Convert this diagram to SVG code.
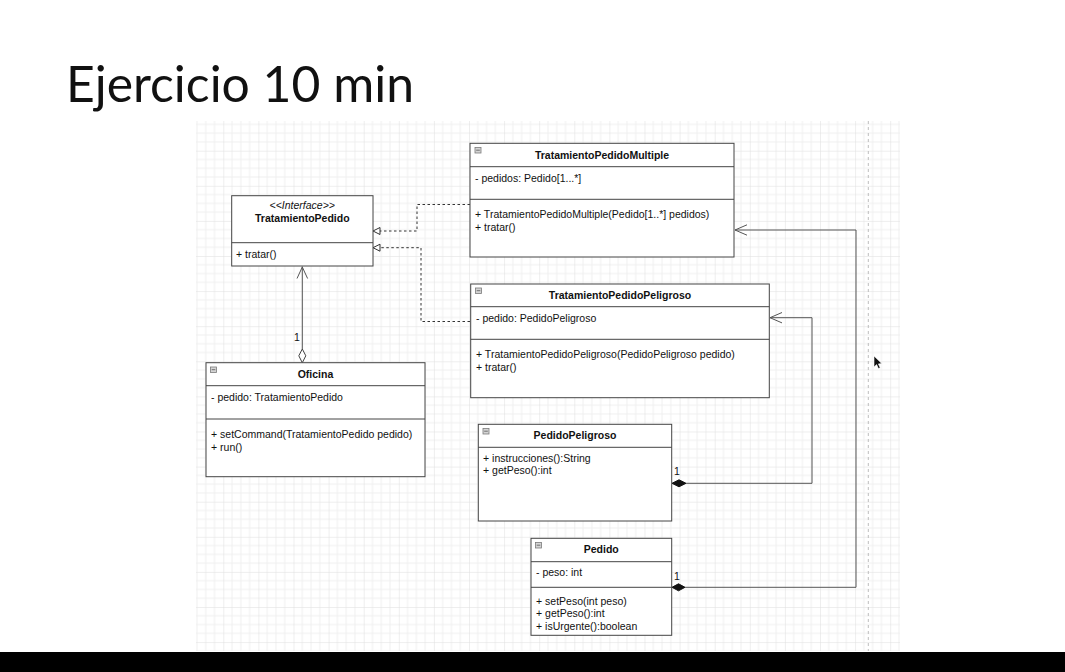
<svg xmlns="http://www.w3.org/2000/svg" width="1065" height="672" viewBox="0 0 1065 672">
<style>
.box{fill:#fff;stroke:#444;stroke-width:1}
.sep{stroke:#444;stroke-width:1}
.t{font-family:"Liberation Sans",Arial,sans-serif;font-size:10.5px;fill:#111}
.b{font-weight:bold;text-anchor:middle}
.i{font-style:italic;text-anchor:middle}
.c{fill:none;stroke:#555;stroke-width:1}
.d{fill:none;stroke:#333;stroke-width:1;stroke-dasharray:2.5,2.5}
.icon{fill:#d4d4d4;stroke:#7a7a7a;stroke-width:0.8}
.minus{stroke:#555;stroke-width:0.8}
</style>
<defs>
<pattern id="grid" patternUnits="userSpaceOnUse" x="223.3" y="150.7" width="35.1" height="35.1">
<path d="M8.775 0V35.1M17.55 0V35.1M26.325 0V35.1M0 8.775H35.1M0 17.55H35.1M0 26.325H35.1" stroke="#efefef" stroke-width="1" fill="none"/>
<path d="M0 0V35.1M0 0H35.1" stroke="#dedede" stroke-width="1" fill="none"/>
</pattern>
</defs>
<rect x="0" y="0" width="1065" height="672" fill="#fff"/>
<text x="66" y="101.5" font-family="Lato,'Open Sans',sans-serif" font-size="51" fill="#111" textLength="348" lengthAdjust="spacingAndGlyphs">Ejercicio 10 min</text>
<rect x="196" y="121" width="704" height="530" fill="url(#grid)"/>
<line x1="868.3" y1="121" x2="868.3" y2="651" stroke="#bdbdbd" stroke-width="1" stroke-dasharray="3,3"/>

<g id="connectors">
<polyline class="d" points="470,204.5 417,204.5 417,231 380,231"/>
<polygon points="373,231 380,227.5 380,234.5" fill="#fff" stroke="#333" stroke-width="1"/>
<polyline class="d" points="470,321.5 421,321.5 421,247.7 380,247.7"/>
<polygon points="373,247.7 380,244.2 380,251.2" fill="#fff" stroke="#333" stroke-width="1"/>
<line class="c" x1="302.3" y1="349" x2="302.3" y2="266.5"/>
<polyline class="c" points="297,278.5 302.3,267 307.6,278.5"/>
<polygon points="302.3,349 305.8,355.8 302.3,362.7 298.8,355.8" fill="#fff" stroke="#444" stroke-width="1"/>
<text class="t" x="297" y="341" text-anchor="middle">1</text>
<polyline class="c" points="686,483.3 812,483.3 812,317.7 770,317.7"/>
<polyline class="c" points="782,312.5 770,317.7 782,322.9"/>
<polygon points="672,483.3 679,479.8 686,483.3 679,486.8" fill="#111" stroke="#111" stroke-width="1"/>
<text class="t" x="674" y="475">1</text>
<polyline class="c" points="685,587.3 856,587.3 856,230 735,230"/>
<polyline class="c" points="747,224.8 735,230 747,235.2"/>
<polygon points="672,587.3 678.5,583.8 685,587.3 678.5,590.8" fill="#111" stroke="#111" stroke-width="1"/>
<text class="t" x="674" y="580">1</text>
</g>

<g id="TratamientoPedido">
<rect class="box" x="231.7" y="195.7" width="141.3" height="70.3"/>
<line class="sep" x1="231.7" y1="242.7" x2="373" y2="242.7"/>
<text class="t i" x="302.3" y="209">&lt;&lt;Interface&gt;&gt;</text>
<text class="t b" x="302.3" y="221.5">TratamientoPedido</text>
<text class="t" x="236" y="258">+ tratar()</text>
</g>

<g id="TratamientoPedidoMultiple">
<rect class="box" x="470" y="143.3" width="264" height="113.7"/>
<line class="sep" x1="470" y1="166.7" x2="734" y2="166.7"/>
<line class="sep" x1="470" y1="199.3" x2="734" y2="199.3"/>
<rect class="icon" x="475" y="147.5" width="6" height="5.5"/><line class="minus" x1="476.2" y1="150.2" x2="479.8" y2="150.2"/>
<text class="t b" x="602" y="158.5">TratamientoPedidoMultiple</text>
<text class="t" x="475" y="181.5">- pedidos: Pedido[1...*]</text>
<text class="t" x="475" y="218.3">+ TratamientoPedidoMultiple(Pedido[1..*] pedidos)</text>
<text class="t" x="475" y="230.5">+ tratar()</text>
</g>

<g id="TratamientoPedidoPeligroso">
<rect class="box" x="470.7" y="284" width="298.6" height="113.7"/>
<line class="sep" x1="470.7" y1="306.7" x2="769.3" y2="306.7"/>
<line class="sep" x1="470.7" y1="339.3" x2="769.3" y2="339.3"/>
<rect class="icon" x="475.5" y="288" width="6" height="5.5"/><line class="minus" x1="476.7" y1="290.7" x2="480.3" y2="290.7"/>
<text class="t b" x="620" y="299">TratamientoPedidoPeligroso</text>
<text class="t" x="476" y="321.5">- pedido: PedidoPeligroso</text>
<text class="t" x="476" y="358.3">+ TratamientoPedidoPeligroso(PedidoPeligroso pedido)</text>
<text class="t" x="476" y="370.5">+ tratar()</text>
</g>

<g id="Oficina">
<rect class="box" x="206" y="362.7" width="219" height="114"/>
<line class="sep" x1="206" y1="385.7" x2="425" y2="385.7"/>
<line class="sep" x1="206" y1="419" x2="425" y2="419"/>
<rect class="icon" x="210.5" y="367" width="6" height="5.5"/><line class="minus" x1="211.7" y1="369.7" x2="215.3" y2="369.7"/>
<text class="t b" x="315.5" y="377.5">Oficina</text>
<text class="t" x="211" y="400.7">- pedido: TratamientoPedido</text>
<text class="t" x="211" y="438.3">+ setCommand(TratamientoPedido pedido)</text>
<text class="t" x="211" y="450.5">+ run()</text>
</g>

<g id="PedidoPeligroso">
<rect class="box" x="478.3" y="424.3" width="193.4" height="96.7"/>
<line class="sep" x1="478.3" y1="447.3" x2="671.7" y2="447.3"/>
<rect class="icon" x="483" y="428.5" width="6" height="5.5"/><line class="minus" x1="484.2" y1="431.2" x2="487.8" y2="431.2"/>
<text class="t b" x="575" y="439">PedidoPeligroso</text>
<text class="t" x="483" y="461.7">+ instrucciones():String</text>
<text class="t" x="483" y="474.2">+ getPeso():int</text>
</g>

<g id="Pedido">
<rect class="box" x="531" y="538.3" width="140.7" height="97"/>
<line class="sep" x1="531" y1="561.7" x2="671.7" y2="561.7"/>
<line class="sep" x1="531" y1="587.3" x2="671.7" y2="587.3"/>
<rect class="icon" x="535.5" y="542.5" width="6" height="5.5"/><line class="minus" x1="536.7" y1="545.2" x2="540.3" y2="545.2"/>
<text class="t b" x="601.3" y="553.3">Pedido</text>
<text class="t" x="536" y="576">- peso: int</text>
<text class="t" x="536" y="605">+ setPeso(int peso)</text>
<text class="t" x="536" y="617.3">+ getPeso():int</text>
<text class="t" x="536" y="629.8">+ isUrgente():boolean</text>
</g>

<path d="M874 356 L874 367 L876.6 364.6 L878.4 368.6 L880.2 367.8 L878.4 363.9 L881.8 363.6 Z" fill="#111" stroke="#fff" stroke-width="0.6"/>
<rect x="0" y="652" width="1065" height="20" fill="#000"/>
</svg>
